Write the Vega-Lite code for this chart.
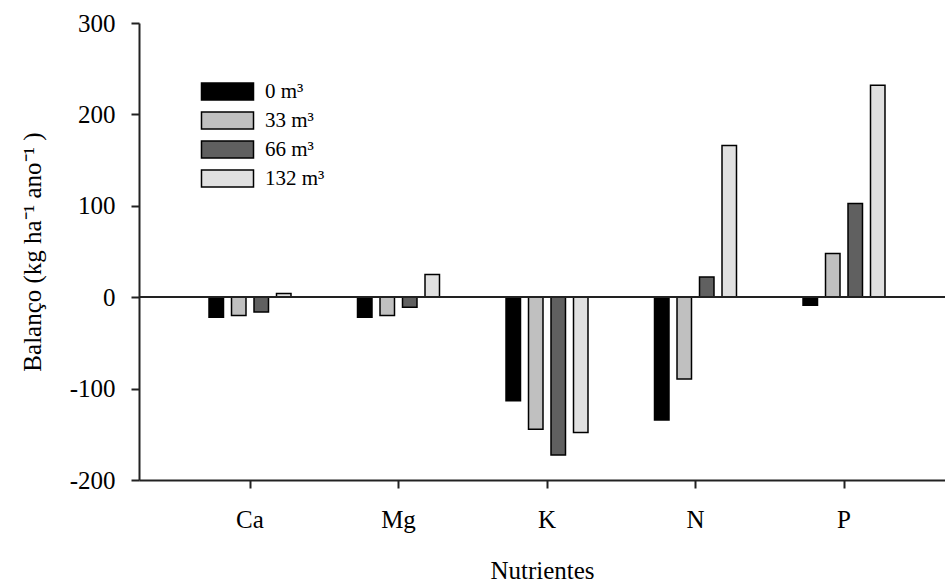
{
  "$schema": "https://vega.github.io/schema/vega-lite/v6.json",
  "width": 806,
  "height": 457,
  "autosize": "none",
  "padding": {"left": 139, "top": 23, "right": 0, "bottom": 102},
  "background": "white",
  "config": {
    "view": {"stroke": null},
    "font": "Liberation Serif",
    "axis": {
      "labelFont": "Liberation Serif",
      "titleFont": "Liberation Serif",
      "labelFontSize": 25,
      "titleFontSize": 25,
      "titleFontWeight": "normal",
      "labelColor": "black",
      "titleColor": "black",
      "domainColor": "#222222",
      "domainWidth": 2,
      "tickColor": "#222222",
      "tickWidth": 2,
      "tickSize": 8,
      "grid": false
    },
    "legend": {
      "labelFont": "Liberation Serif",
      "labelFontSize": 21,
      "labelColor": "black"
    }
  },
  "data": {
    "values": [
      {"nutriente": "Ca", "dose": "0 m³", "balanco": -21.9},
      {"nutriente": "Ca", "dose": "33 m³", "balanco": -20.1},
      {"nutriente": "Ca", "dose": "66 m³", "balanco": -16.1},
      {"nutriente": "Ca", "dose": "132 m³", "balanco": 4},
      {"nutriente": "Mg", "dose": "0 m³", "balanco": -21.9},
      {"nutriente": "Mg", "dose": "33 m³", "balanco": -20.1},
      {"nutriente": "Mg", "dose": "66 m³", "balanco": -11},
      {"nutriente": "Mg", "dose": "132 m³", "balanco": 24.9},
      {"nutriente": "K", "dose": "0 m³", "balanco": -113.3},
      {"nutriente": "K", "dose": "33 m³", "balanco": -144.6},
      {"nutriente": "K", "dose": "66 m³", "balanco": -172.7},
      {"nutriente": "K", "dose": "132 m³", "balanco": -148.1},
      {"nutriente": "N", "dose": "0 m³", "balanco": -134.4},
      {"nutriente": "N", "dose": "33 m³", "balanco": -89.5},
      {"nutriente": "N", "dose": "66 m³", "balanco": 22.1},
      {"nutriente": "N", "dose": "132 m³", "balanco": 166},
      {"nutriente": "P", "dose": "0 m³", "balanco": -8.8},
      {"nutriente": "P", "dose": "33 m³", "balanco": 47.8},
      {"nutriente": "P", "dose": "66 m³", "balanco": 102.6},
      {"nutriente": "P", "dose": "132 m³", "balanco": 231.8}
    ]
  },
  "encoding": {
    "y": {
      "field": "balanco",
      "type": "quantitative",
      "scale": {"domain": [-200, 300], "nice": false, "zero": false},
      "axis": {
        "values": [-200, -100, 0, 100, 200, 300],
        "labelExpr": "datum.value < 0 ? '-' + abs(datum.value) : '' + datum.value",
        "title": "Balanço (kg ha⁻¹   ano⁻¹ )",
        "labelPadding": 16,
        "titlePadding": 24
      }
    }
  },
  "layer": [
    {
      "mark": {"type": "bar", "stroke": "black", "strokeWidth": 1.5, "cornerRadius": 0},
      "encoding": {
        "x": {
          "field": "nutriente",
          "type": "nominal",
          "sort": ["Ca", "Mg", "K", "N", "P"],
          "scale": {"paddingInner": 0.394, "paddingOuter": 0.4108, "align": 0.541},
          "axis": {
            "title": "Nutrientes",
            "labelAngle": 0,
            "labelPadding": 19,
            "titlePadding": 26
          }
        },
        "xOffset": {
          "field": "dose",
          "type": "nominal",
          "sort": ["0 m³", "33 m³", "66 m³", "132 m³"],
          "scale": {"paddingInner": 0.356, "paddingOuter": 0.178}
        },
        "color": {
          "field": "dose",
          "type": "nominal",
          "sort": ["0 m³", "33 m³", "66 m³", "132 m³"],
          "scale": {
            "domain": ["0 m³", "33 m³", "66 m³", "132 m³"],
            "range": ["#000000", "#c0c0c0", "#606060", "#e0e0e0"]
          },
          "legend": {
            "title": null,
            "orient": "none",
            "legendX": 78,
            "legendY": 58,
            "padding": 0,
            "symbolType": "M-3.06,-1H3.06V1H-3.06Z",
            "symbolSize": 289,
            "symbolStrokeColor": "black",
            "symbolStrokeWidth": 1.5,
            "symbolOpacity": 1,
            "labelOffset": 27,
            "rowPadding": 6
          }
        }
      }
    },
    {
      "mark": {"type": "rule", "color": "#222222", "strokeWidth": 1.5},
      "encoding": {"y": {"datum": 0}}
    }
  ]
}
